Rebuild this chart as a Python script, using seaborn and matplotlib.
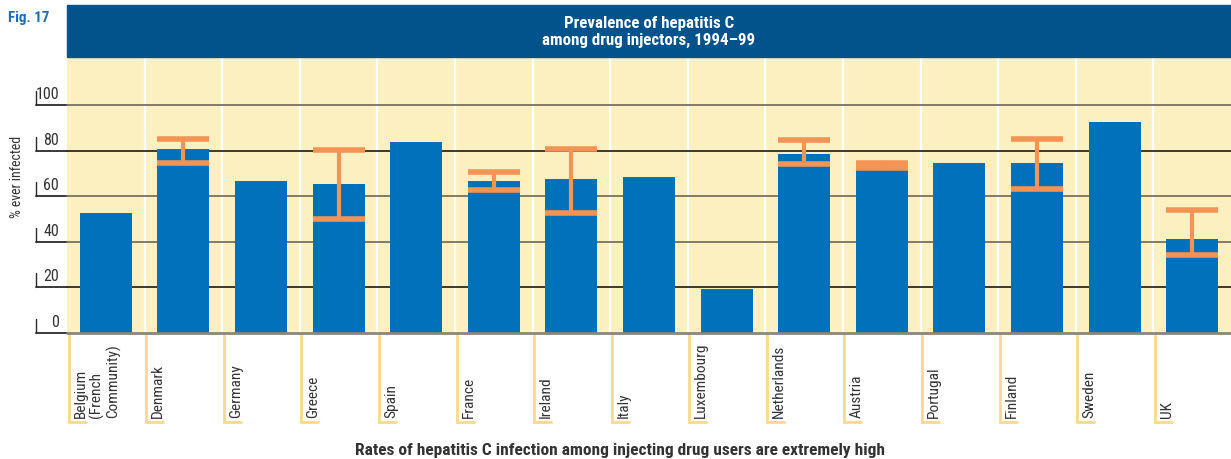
import numpy as np
import pandas as pd
import matplotlib
matplotlib.use("Agg")
import matplotlib.pyplot as plt
import matplotlib.transforms as mtransforms
from matplotlib.patches import Rectangle
from matplotlib import font_manager
import seaborn as sns

# data
countries = ['Belgium\n(French\nCommunity)', 'Denmark', 'Germany', 'Greece', 'Spain',
             'France', 'Ireland', 'Italy', 'Luxembourg', 'Netherlands', 'Austria',
             'Portugal', 'Finland', 'Sweden', 'UK']
prevalence = [52.5, 80.6, 66.5, 65.2, 83.6, 66.5, 67.4, 68.3, 19.2, 78.4, 73.0,
              74.4, 74.4, 92.4, 41.1]
range_low = [np.nan, 74.6, np.nan, 49.9, np.nan, 62.7, 52.4, np.nan, np.nan, 74.1, 72.2,
             np.nan, 63.3, np.nan, 34.4]
range_high = [np.nan, 85.0, np.nan, 80.3, np.nan, 70.5, 80.6, np.nan, np.nan, 84.5, 74.4,
              np.nan, 84.9, np.nan, 54.0]
yticks = [0, 20, 40, 60, 80, 100]

title = 'Prevalence of hepatitis C\namong drug injectors, 1994–99'
fig_label = 'Fig. 17'
ylabel = '% ever infected'
caption = 'Rates of hepatitis C infection among injecting drug users are extremely high'

# colours
BAR = '#0071BA'
BANNER = '#02538B'
BG = '#FDF0C0'
ERR = '#F39455'
SEP = '#FDD98A'
TXT = '#333333'

sns.set_style('white')
# condensed face if one is installed, else regular sans
names = {f.name for f in font_manager.fontManager.ttflist}
narrow = [f for f in ['Roboto Condensed', 'Liberation Sans Narrow', 'Arial Narrow'] if f in names]
plt.rcParams['font.family'] = narrow[:1] + ['Liberation Sans', 'DejaVu Sans']
k_size = 1.18 if narrow else 1.0

W, H = 1231, 459
fig = plt.figure(figsize=(W / 100, H / 100), dpi=100)
ax_left, ax_right, ax_top, ax_bottom = 67, 1231, 57, 333
ax = fig.add_axes([ax_left / W, 1 - ax_bottom / H, (ax_right - ax_left) / W,
                   (ax_bottom - ax_top) / H])
ax.set_facecolor(BG)

df = pd.DataFrame({'country': countries, 'prevalence': prevalence})
bar_w = 0.67
sns.barplot(data=df, x='country', y='prevalence', color=BAR, width=bar_w,
            saturation=1, linewidth=0, ax=ax, zorder=3)

n = len(countries)
ax.set_xlim(-0.5, n - 0.5)
ax.set_ylim(0, 121)
ax.set_xticks([])
ax.set_yticks([])
ax.set_xlabel('')
ax.set_ylabel('')
for s in ax.spines.values():
    s.set_visible(False)

# white separators between categories
for k in range(1, n):
    ax.axvline(k - 0.5, color='white', lw=1.6, zorder=1)

# gridlines extending to the left of the plot area, with small ticks
ext = -(ax_left - 36) / (ax_right - ax_left)
grid_cols = {0: '#8a877c', 20: '#2a2a2a', 40: '#77715e', 60: '#77715e', 80: '#2a2a2a', 100: '#77715e'}
trans_y = mtransforms.blended_transform_factory(ax.transAxes, ax.transData)
px_y = 121 / (ax_bottom - ax_top)
for t in yticks:
    ax.plot([ext, 0], [t, t], transform=trans_y, color='#2a2a2a', lw=1.3,
            clip_on=False, zorder=2)
    ax.plot([0, 1], [t, t], transform=trans_y, color=grid_cols[t],
            lw=2.0 if t == 0 else 1.3, clip_on=False, zorder=2 if t else 4)
    ax.plot([ext, ext], [t, t + 14 * px_y], transform=trans_y, color='#2a2a2a',
            lw=1.0, clip_on=False)
    ax.text(-(ax_left - 59) / (ax_right - ax_left), t + 3 * px_y, str(t),
            transform=trans_y, ha='right', va='bottom', fontsize=9.8 * k_size, color=TXT)

# error ranges
idx = np.arange(n)
lo = np.array(range_low)
hi = np.array(range_high)
m = ~np.isnan(lo)
ax.vlines(idx[m], lo[m], hi[m], color=ERR, lw=3, zorder=5)
ax.hlines(lo[m], idx[m] - bar_w / 2, idx[m] + bar_w / 2, color=ERR, lw=4, zorder=5)
ax.hlines(hi[m], idx[m] - bar_w / 2, idx[m] + bar_w / 2, color=ERR, lw=4, zorder=5)

# category labels with bracket lines below the axis
trans_x = mtransforms.blended_transform_factory(ax.transData, ax.transAxes)
ah = ax_bottom - ax_top
cell = (ax_right - ax_left) / n
line_bot = -(421.5 - ax_bottom) / ah
for k, name in enumerate(countries):
    x0 = k - 0.5 + 1.5 / cell
    ax.plot([x0, x0, x0 + 17 / cell], [0, line_bot, line_bot], transform=trans_x,
            color=SEP, lw=2, clip_on=False, solid_joinstyle='miter')
    ax.text(x0 + 5 / cell, -(418 - ax_bottom) / ah, name, transform=trans_x,
            rotation=90, ha='left', va='bottom', multialignment='left',
            fontsize=9.4 * k_size, color=TXT, linespacing=1.12)

# banner and titles
fig.patches.append(Rectangle((ax_left / W, 1 - 57 / H), (W - ax_left) / W, 52 / H,
                             transform=fig.transFigure, color=BANNER, zorder=0))
fig.text((ax_left + W) / 2 / W, 1 - 32 / H, title, ha='center', va='center',
         color='white', fontsize=10.3 * k_size, fontweight='bold', linespacing=1.2)
fig.text(8 / W, 1 - 18 / H, fig_label, ha='left', va='center', color='#1F6DB5',
         fontsize=9.2 * k_size, fontweight='bold')
fig.text(17 / W, 1 - 177 / H, ylabel, rotation=90, ha='center', va='center',
         color=TXT, fontsize=8.5 * k_size)
fig.text(620 / W, 1 - 451 / H, caption, ha='center', va='center', color=TXT,
         fontsize=10.6 * k_size, fontweight='bold')

fig.savefig('out.png', dpi=100, facecolor='white')
